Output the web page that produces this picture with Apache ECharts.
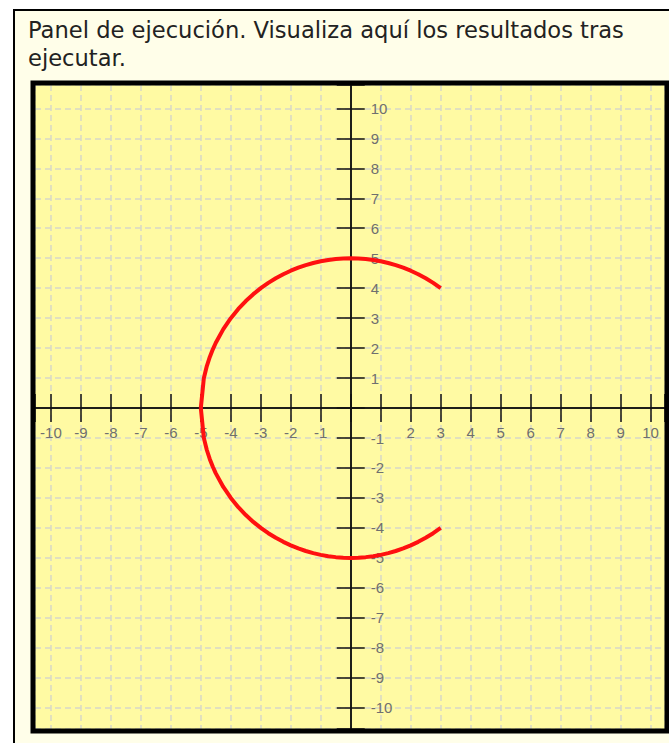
<!DOCTYPE html>
<html>
<head>
<meta charset="utf-8">
<script src="https://cdn.jsdelivr.net/npm/echarts@6/dist/echarts.min.js"></script>
<style>
  html, body { margin: 0; padding: 0; background: #ffffff; width: 669px; height: 743px; overflow: hidden; }
  #panel { position: absolute; left: 13px; top: 9px; width: 700px; height: 800px; border: 2px solid #000; background: #fffee9; }
  #heading { position: absolute; left: 28px; top: 16px; font-family: "DejaVu Sans", sans-serif; font-size: 22.6px; line-height: 28px; color: #222; white-space: pre; }
  #chart { position: absolute; left: 0; top: 0; width: 669px; height: 743px; }
</style>
</head>
<body>
<div id="panel"></div>
<div id="heading">Panel de ejecución. Visualiza aquí los resultados tras
ejecutar.</div>
<div id="chart"></div>
<script>
// Visible window of the plane
const xRange = [-10.53, 10.48];
const yRange = [-10.71, 10.78];

// Tick values that carry no label
const hiddenXLabels = [0, 1];
const hiddenYLabels = [0];

// Upper half of the arc, [x, y]
const upperArc = [
  [-5, 0], [-4.9, 0.995], [-4.8, 1.4], [-4.7, 1.706], [-4.6, 1.96], [-4.5, 2.179],
  [-4.25, 2.634], [-4, 3], [-3.75, 3.307], [-3.5, 3.571], [-3.25, 3.8], [-3, 4],
  [-2.75, 4.176], [-2.5, 4.33], [-2.25, 4.465], [-2, 4.583], [-1.75, 4.684],
  [-1.5, 4.77], [-1.25, 4.841], [-1, 4.899], [-0.75, 4.943], [-0.5, 4.975],
  [-0.25, 4.994], [0, 5], [0.25, 4.994], [0.5, 4.975], [0.75, 4.943], [1, 4.899],
  [1.25, 4.841], [1.5, 4.77], [1.75, 4.684], [2, 4.583], [2.25, 4.465], [2.5, 4.33],
  [2.75, 4.176], [3, 4]
];

// Lower half of the arc, [x, y]
const lowerArc = [
  [-5, 0], [-4.9, -0.995], [-4.8, -1.4], [-4.7, -1.706], [-4.6, -1.96], [-4.5, -2.179],
  [-4.25, -2.634], [-4, -3], [-3.75, -3.307], [-3.5, -3.571], [-3.25, -3.8], [-3, -4],
  [-2.75, -4.176], [-2.5, -4.33], [-2.25, -4.465], [-2, -4.583], [-1.75, -4.684],
  [-1.5, -4.77], [-1.25, -4.841], [-1, -4.899], [-0.75, -4.943], [-0.5, -4.975],
  [-0.25, -4.994], [0, -5], [0.25, -4.994], [0.5, -4.975], [0.75, -4.943], [1, -4.899],
  [1.25, -4.841], [1.5, -4.77], [1.75, -4.684], [2, -4.583], [2.25, -4.465], [2.5, -4.33],
  [2.75, -4.176], [3, -4]
];

// Plot area of the cartesian grid
const plot = { left: 35, top: 85, width: 630, height: 644 };

// Distances from each grid edge to the line through the origin,
// so the axes sit on x = 0 and y = 0 with their labels beside them
const zeroFromLeft = plot.width * (0 - xRange[0]) / (xRange[1] - xRange[0]);
const zeroFromBottom = plot.height * (0 - yRange[0]) / (yRange[1] - yRange[0]);

function tickLabel(hidden) {
  return function (v) {
    const r = Math.round(v);
    if (Math.abs(v - r) > 1e-6 || hidden.indexOf(r) !== -1) return '';
    return String(r);
  };
}

const axisLineStyle = { color: '#111', width: 1.5 };
const tickStyle = { color: '#111', width: 1.5 };
const gridLineStyle = { type: [6, 4], color: '#d8d7c8', width: 1.5 };
const labelBase = { color: '#6f6f6f', fontSize: 15, fontFamily: 'Liberation Sans, Arial, sans-serif' };

const chart = echarts.init(document.getElementById('chart'), null, { renderer: 'svg' });
chart.setOption({
  animation: false,
  backgroundColor: 'transparent',
  grid: {
    left: plot.left, top: plot.top, width: plot.width, height: plot.height,
    outerBoundsMode: 'none', containLabel: false,
    show: true, backgroundColor: '#fffaa3', borderWidth: 0
  },
  xAxis: [
    {
      type: 'value', min: xRange[0], max: xRange[1], splitNumber: 21, position: 'bottom',
      offset: -zeroFromBottom,
      axisLine: { onZero: false, lineStyle: axisLineStyle },
      axisTick: { show: true, length: 14, lineStyle: tickStyle },
      axisLabel: Object.assign({ margin: 17, formatter: tickLabel(hiddenXLabels) }, labelBase),
      splitLine: { show: true, lineStyle: gridLineStyle }
    },
    {
      type: 'value', min: xRange[0], max: xRange[1], splitNumber: 21, position: 'top',
      offset: -(plot.height - zeroFromBottom),
      axisLine: { onZero: false, lineStyle: axisLineStyle },
      axisTick: { show: true, length: 14, lineStyle: tickStyle },
      axisLabel: { show: false },
      splitLine: { show: false }
    }
  ],
  yAxis: [
    {
      type: 'value', min: yRange[0], max: yRange[1], splitNumber: 21, position: 'right',
      offset: -(plot.width - zeroFromLeft),
      axisLine: { onZero: false, lineStyle: axisLineStyle },
      axisTick: { show: true, length: 14, lineStyle: tickStyle },
      axisLabel: Object.assign({ margin: 20, formatter: tickLabel(hiddenYLabels) }, labelBase),
      splitLine: { show: true, lineStyle: gridLineStyle }
    },
    {
      type: 'value', min: yRange[0], max: yRange[1], splitNumber: 21, position: 'left',
      offset: -zeroFromLeft,
      axisLine: { onZero: false, lineStyle: axisLineStyle },
      axisTick: { show: true, length: 14, lineStyle: tickStyle },
      axisLabel: { show: false },
      splitLine: { show: false }
    }
  ],
  series: [
    {
      type: 'line', xAxisIndex: 0, yAxisIndex: 0, data: upperArc, showSymbol: false, silent: true,
      lineStyle: { color: '#ff1010', width: 4, join: 'round' }
    },
    {
      type: 'line', xAxisIndex: 0, yAxisIndex: 0, data: lowerArc, showSymbol: false, silent: true,
      lineStyle: { color: '#ff1010', width: 4, join: 'round' }
    }
  ],
  graphic: [
    {
      type: 'rect', z: 100, silent: true,
      shape: { x: 33, y: 83, width: 634, height: 648 },
      style: { fill: 'none', stroke: '#000', lineWidth: 5 }
    }
  ]
});
</script>
</body>
</html>
